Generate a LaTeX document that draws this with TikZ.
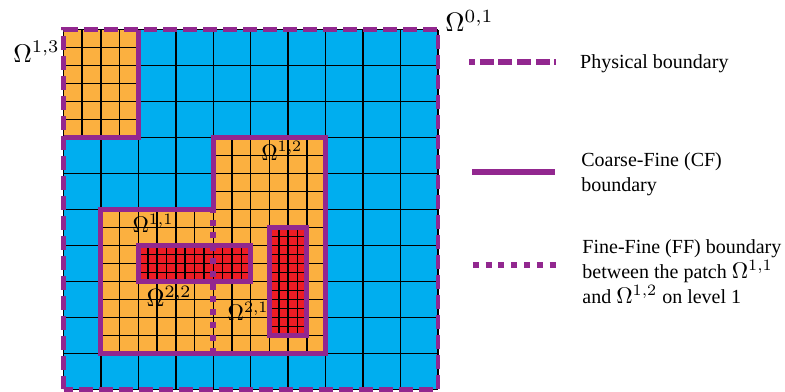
\documentclass[tikz,border=0pt]{standalone}
\usepackage{graphicx}
\usepackage[no-math]{fontspec}
\setmainfont{Liberation Serif}
\definecolor{coarseblue}{HTML}{00AEEF}
\definecolor{fineorange}{HTML}{FBB040}
\definecolor{finered}{HTML}{ED1C24}
\definecolor{bndpurple}{HTML}{92278F}
\newcommand{\patchname}[2][1.7]{\scalebox{#1}{\fontsize{10}{12}\selectfont$\Omega^{#2}$}}
\begin{document}
\begin{tikzpicture}[x=28.09pt,y=27pt]

		\tikzstyle{gridline}=[black,line width=1.1pt]
		\tikzstyle{cfline}=[bndpurple,line width=3.8pt]
		\tikzstyle{physline}=[bndpurple,line width=3.5pt,dash pattern=on 10.5pt off 4.5pt]
		\tikzstyle{ffline}=[bndpurple,line width=4.6pt,dash pattern=on 4.5pt off 5.1pt]
		\tikzstyle{omegalabel}=[inner sep=0pt]
		\tikzstyle{legendtext}=[inner sep=0pt,anchor=west,align=left,font=\fontsize{15}{18.75}\selectfont]

		\useasboundingbox (-1.6956,-0.0417) rectangle (19.265,10.82);

		% level 0
		\fill[coarseblue] (0,0) rectangle (10,10);
		\draw[gridline] (0,0) grid[step=1] (10,10);

		% level 1 patches
		\fill[fineorange] (0,7) rectangle (2,10);
		\draw[gridline] (0,7) grid[step=0.5] (2,10);
		\fill[fineorange] (1,1) -- (7,1) -- (7,7) -- (4,7) -- (4,5) -- (1,5) -- cycle;
		\draw[gridline] (1,1) grid[step=0.5] (7,5);
		\draw[gridline] (4,5) grid[step=0.5] (7,7);

		% level 2 patches
		\fill[finered] (2,3) rectangle (5,4);
		\draw[gridline] (2,3) grid[step=0.25] (5,4);
		\fill[finered] (5.5,1.5) rectangle (6.5,4.5);
		\draw[gridline] (5.5,1.5) grid[step=0.25] (6.5,4.5);

		% boundaries
		\draw[cfline] (0,7) -- (2,7) -- (2,10);
		\draw[cfline] (1,1) -- (7,1) -- (7,7) -- (4,7) -- (4,5) -- (1,5) -- cycle;
		\draw[cfline] (2,3) rectangle (5,4);
		\draw[cfline] (5.5,1.5) rectangle (6.5,4.5);
		\coordinate (ffbot) at (4,1);
		\coordinate (fftop) at (4,5);
		\draw[ffline] (ffbot) -- (fftop);
		\draw[physline] (0,0) rectangle (10,10);

		% labels
		\node[omegalabel] (omega01) at (10.84,10.24) {\patchname[2]{0,1}};
		\node[omegalabel] (omega13) at (-0.72,9.38) {\patchname[1.92]{1,3}};
		\node[omegalabel] (omega12) at (5.83,6.63) {\patchname{1,2}};
		\node[omegalabel] (omega11) at (2.39,4.62) {\patchname{1,1}};
		\node[omegalabel] (omega22) at (2.82,2.58) {\patchname[1.87]{2,2}};
		\node[omegalabel] (omega21) at (4.93,2.18) {\patchname{2,1}};

		% legend
		\coordinate (physa) at (10.83,9.1);
		\coordinate (physb) at (13.15,9.1);
		\coordinate (cfa) at (10.91,6.04);
		\coordinate (cfb) at (13.12,6.04);
		\coordinate (ffa) at (10.93,3.47);
		\coordinate (ffb) at (13.15,3.47);

		\draw[physline,line width=4.3pt,dash pattern=on 10.5pt off 3.5pt,dash phase=6pt] (physa) -- (physb);
		\draw[cfline,line width=4.3pt] (cfa) -- (cfb);
		\draw[ffline] (ffa) -- (ffb);

		\node[legendtext] (physnote) at (13.79,9.05) {Physical boundary};
		\node[legendtext] (cfnote) at (13.82,5.99) {Coarse-Fine (CF)\\boundary};
		\node[legendtext] (ffnote) at (13.85,3.26) {Fine-Fine (FF) boundary\\between the patch \patchname{1,1}\\and \patchname{1,2} on level 1};

\end{tikzpicture}
\end{document}
